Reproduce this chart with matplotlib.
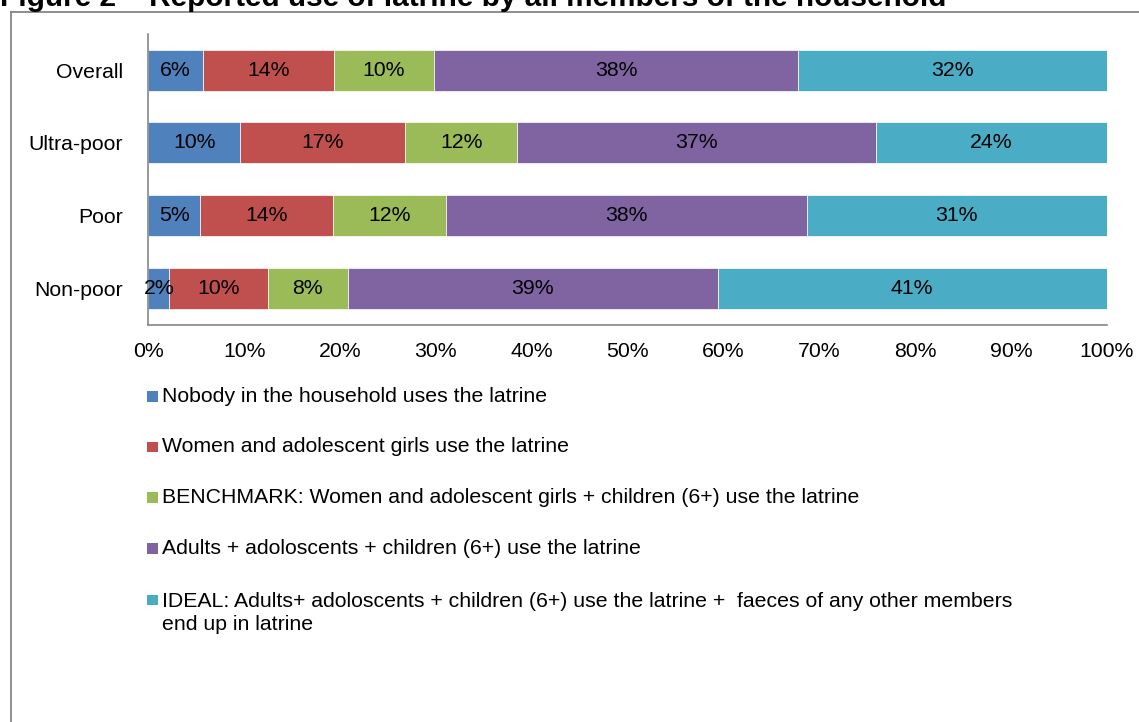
import matplotlib
matplotlib.use("Agg")
import matplotlib.pyplot as plt
from matplotlib.patches import Rectangle
from matplotlib.lines import Line2D
import numpy as np

plt.rcParams['font.family'] = ['Liberation Sans', 'DejaVu Sans']

categories = ["Overall", "Ultra-poor", "Poor", "Non-poor"]
series_names = [
    "Nobody in the household uses the latrine",
    "Women and adolescent girls use the latrine",
    "BENCHMARK: Women and adolescent girls + children (6+) use the latrine",
    "Adults + adoloscents + children (6+) use the latrine",
    "IDEAL: Adults+ adoloscents + children (6+) use the latrine +  faeces of any other members\nend up in latrine",
]
nobody = [5.7, 9.6, 5.4, 2.2]
women = [13.7, 17.2, 13.9, 10.3]
benchmark = [10.4, 11.7, 11.8, 8.3]
adults = [38.0, 37.4, 37.6, 38.6]
ideal = [32.2, 24.1, 31.3, 40.6]
series_values = [nobody, women, benchmark, adults, ideal]
colors = ["#4F81BD", "#C0504D", "#9BBB59", "#8064A2", "#4BACC6"]
xticks = [0, 10, 20, 30, 40, 50, 60, 70, 80, 90, 100]
title = "Figure 2 \u2013 Reported use of latrine by all members of the household"

W, H = 1139, 722
fig = plt.figure(figsize=(W / 100, H / 100), dpi=100)
FS = 15.35

def fx(px):
    return px / W

def fy(py):
    return 1 - py / H

ax = fig.add_axes([fx(148.3), fy(324.6), (1106.7 - 148.3) / W, (324.6 - 33.8) / H])

y = np.arange(len(categories))
left = np.zeros(len(categories))
for vals, col in zip(series_values, colors):
    vals = np.array(vals)
    bars = ax.barh(y, vals, left=left, height=0.567, color=col,
                   edgecolor='white', linewidth=0.5)
    ax.bar_label(bars, labels=["%d%%" % round(v) for v in vals],
                 label_type='center', fontsize=FS, color='black')
    left += vals

ax.set_xlim(0, 100)
ax.set_ylim(len(categories) - 0.5, -0.5)
ax.set_yticks(y)
ax.set_yticklabels(categories, fontsize=FS)
ax.set_xticks(xticks)
ax.set_xticklabels(["%d%%" % t for t in xticks], fontsize=FS)
ax.tick_params(axis='x', length=0, pad=12.5)
ax.tick_params(axis='y', length=0, pad=18)
for s in ['top', 'right']:
    ax.spines[s].set_visible(False)
for s in ['left', 'bottom']:
    ax.spines[s].set_color('#868686')
    ax.spines[s].set_linewidth(1.2)

# legend drawn manually
row_centers = [396.5, 446.8, 497.5, 548.6, 600.0]
for name, col, yc in zip(series_names, colors, row_centers):
    fig.patches.append(Rectangle((fx(147.2), fy(yc + 5.4)), 10.7 / W, 10.7 / H,
                                 transform=fig.transFigure, facecolor=col,
                                 edgecolor='none'))
    if "\n" in name:
        fig.text(fx(162), fy(yc + 13), name, fontsize=FS, va='center', ha='left',
                 linespacing=1.22)
    else:
        fig.text(fx(162), fy(yc), name, fontsize=FS, va='center', ha='left')

# outer frame
fig.lines.append(Line2D([fx(10.5), fx(10.5)], [fy(11.5), 0], transform=fig.transFigure,
                        color='#868686', linewidth=1.3))
fig.lines.append(Line2D([fx(10.5), 1], [fy(11.5), fy(11.5)], transform=fig.transFigure,
                        color='#868686', linewidth=1.3))

# title (partially cut at top, as in the source)
fig.text(fx(0), fy(6.5), title, fontsize=21.4, fontweight='bold', va='baseline', ha='left')

fig.savefig("out.png", dpi=100)
